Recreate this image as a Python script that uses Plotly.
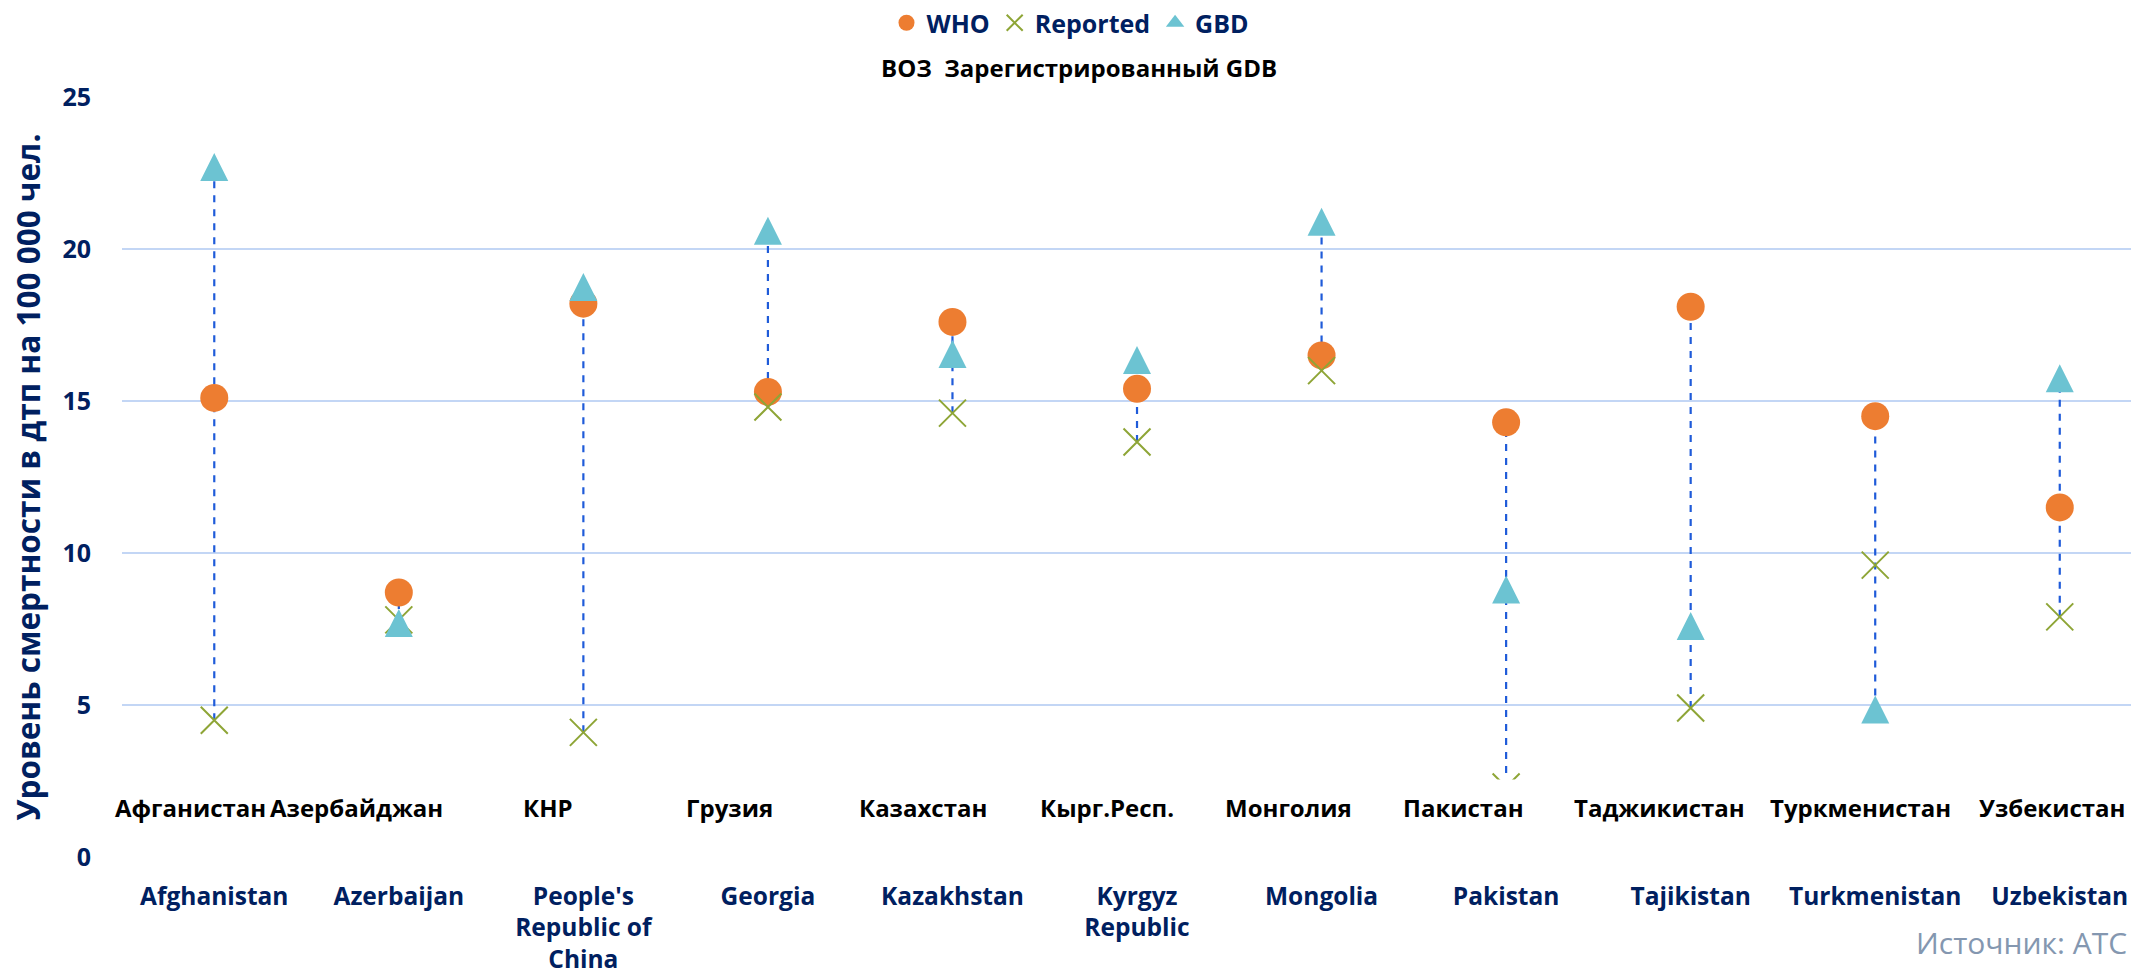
import plotly.graph_objects as go

# ---------------- data ----------------
categories_en = ["Afghanistan", "Azerbaijan", "People's<br>Republic of<br>China", "Georgia",
                 "Kazakhstan", "Kyrgyz<br>Republic", "Mongolia", "Pakistan",
                 "Tajikistan", "Turkmenistan", "Uzbekistan"]
categories_ru = ["Афганистан", "Азербайджан", "КНР", "Грузия", "Казахстан", "Кырг.Респ.",
                 "Монголия", "Пакистан", "Таджикистан", "Туркменистан", "Узбекистан"]
who_values = [15.1, 8.7, 18.2, 15.3, 17.6, 15.4, 16.5, 14.3, 18.1, 14.5, 11.5]
reported_values = [4.5, 7.8, 4.1, 14.8, 14.6, 13.65, 16.0, 2.3, 4.9, 9.6, 7.9]
gbd_values = [22.7, 7.7, 18.75, 20.6, 16.55, 16.35, 20.9, 8.8, 7.6, 4.85, 15.75]
y_ticks = [0, 5, 10, 15, 20, 25]
legend_names = ["WHO", "Reported", "GBD"]
subtitle_text = "ВОЗ  Зарегистрированный GDB"
y_title = "Уровень смертности в дтп на 100 000 чел."
source_text = "Источник: АТС"

# ---------------- style ----------------
NAVY = "#002060"
FONT = "Open Sans"
W, H = 2131, 978
ML, MR, MT, MB = 122, 0, 97, 121
X_RANGE = [-0.5, 10.386]
# horizontal nudges of the Russian text row (in category units)
RU_NUDGE = [-0.13, -0.23, -0.19, -0.21, -0.16, -0.16, -0.18, -0.23, -0.17, -0.08, -0.04]

idx = list(range(len(categories_en)))

fig = go.Figure()

# dashed high-low connectors built from data
lx, ly = [], []
for i in idx:
    vals = [who_values[i], reported_values[i], gbd_values[i]]
    lx += [i, i, None]
    ly += [min(vals), max(vals), None]
fig.add_trace(go.Scatter(x=lx, y=ly, mode="lines", showlegend=False, hoverinfo="skip",
                         line=dict(color="#1F5BD9", width=2.2, dash="7px,7px")))

fig.add_trace(go.Scatter(x=idx, y=who_values, mode="markers", name=legend_names[0],
                         marker=dict(symbol="circle", size=28, color="#ED7D31")))
fig.add_trace(go.Scatter(x=idx, y=reported_values, mode="markers", name=legend_names[1],
                         marker=dict(symbol="x-thin-open", size=27, color="#8EA536",
                                     line=dict(width=2, color="#8EA536"))))
fig.add_trace(go.Scatter(x=idx, y=gbd_values, mode="markers", name=legend_names[2],
                         legendgroup="gbd", showlegend=False,
                         marker=dict(symbol="arrow-down", angle=180, standoff=14,
                                     size=28, color="#6CC3D2")))
# legend entry for GBD (plain triangle symbol)
fig.add_trace(go.Scatter(x=[None], y=[None], mode="markers", name=legend_names[2],
                         legendgroup="gbd", showlegend=True,
                         marker=dict(symbol="triangle-up", size=20, color="#6CC3D2")))

# white cover at the bottom of plot area (as in the original text box)
fig.add_shape(type="rect", xref="x", yref="y", x0=X_RANGE[0], x1=X_RANGE[1], y0=-1, y1=2.55,
              fillcolor="white", line=dict(width=0), layer="above")

# Russian labels row
for i, (lab, nd) in enumerate(zip(categories_ru, RU_NUDGE)):
    fig.add_annotation(x=i + nd, y=1.63, xref="x", yref="y", text=lab, showarrow=False,
                       font=dict(family=FONT, size=24, color="black", weight="bold"),
                       xanchor="center", yanchor="middle")

plot_w = W - ML - MR
plot_h = H - MT - MB

def px_x(p):
    return (p - ML) / plot_w

def px_y(p):
    return (H - MB - p) / plot_h

fig.add_annotation(x=px_x(1079), y=px_y(68), xref="paper", yref="paper", text=subtitle_text,
                   showarrow=False, xanchor="center", yanchor="middle",
                   font=dict(family=FONT, size=24, color="black", weight="bold"))
fig.add_annotation(x=px_x(1914), y=px_y(942), xref="paper", yref="paper", text=source_text,
                   showarrow=False, xanchor="left", yanchor="middle",
                   font=dict(family=FONT, size=30, color="#8497B0"))

fig.update_layout(
    width=W, height=H,
    margin=dict(l=ML, r=MR, t=MT, b=MB, autoexpand=False),
    paper_bgcolor="white", plot_bgcolor="white",
    showlegend=True,
    legend=dict(orientation="h", x=px_x(1070), y=px_y(23), xanchor="center", yanchor="middle",
                font=dict(family=FONT, size=25, color=NAVY, weight="bold"),
                itemwidth=30, tracegroupgap=0, bgcolor="rgba(0,0,0,0)"),
    xaxis=dict(range=X_RANGE, tickmode="array", tickvals=idx, ticktext=categories_en,
               showgrid=False, zeroline=False, showline=False, ticks="",
               ticklabelstandoff=22, ticklabeloverflow="allow",
               tickfont=dict(family=FONT, size=24.5, color=NAVY, weight="bold")),
    yaxis=dict(range=[0, 25], tickmode="array", tickvals=y_ticks,
               showgrid=True, gridcolor="#C3D6F5", gridwidth=2,
               zeroline=True, zerolinecolor="white", zerolinewidth=3,
               showline=False, ticks="", ticklabelstandoff=30,
               tickfont=dict(family=FONT, size=25, color=NAVY, weight="bold"),
               title=dict(text=y_title, standoff=12,
                          font=dict(family=FONT, size=31.5, color=NAVY, weight="bold"))),
    font=dict(family=FONT),
)

fig.write_html("out.html", config={"displayModeBar": False},
               post_script="document.body.style.margin='0';document.body.style.overflow='hidden';")
